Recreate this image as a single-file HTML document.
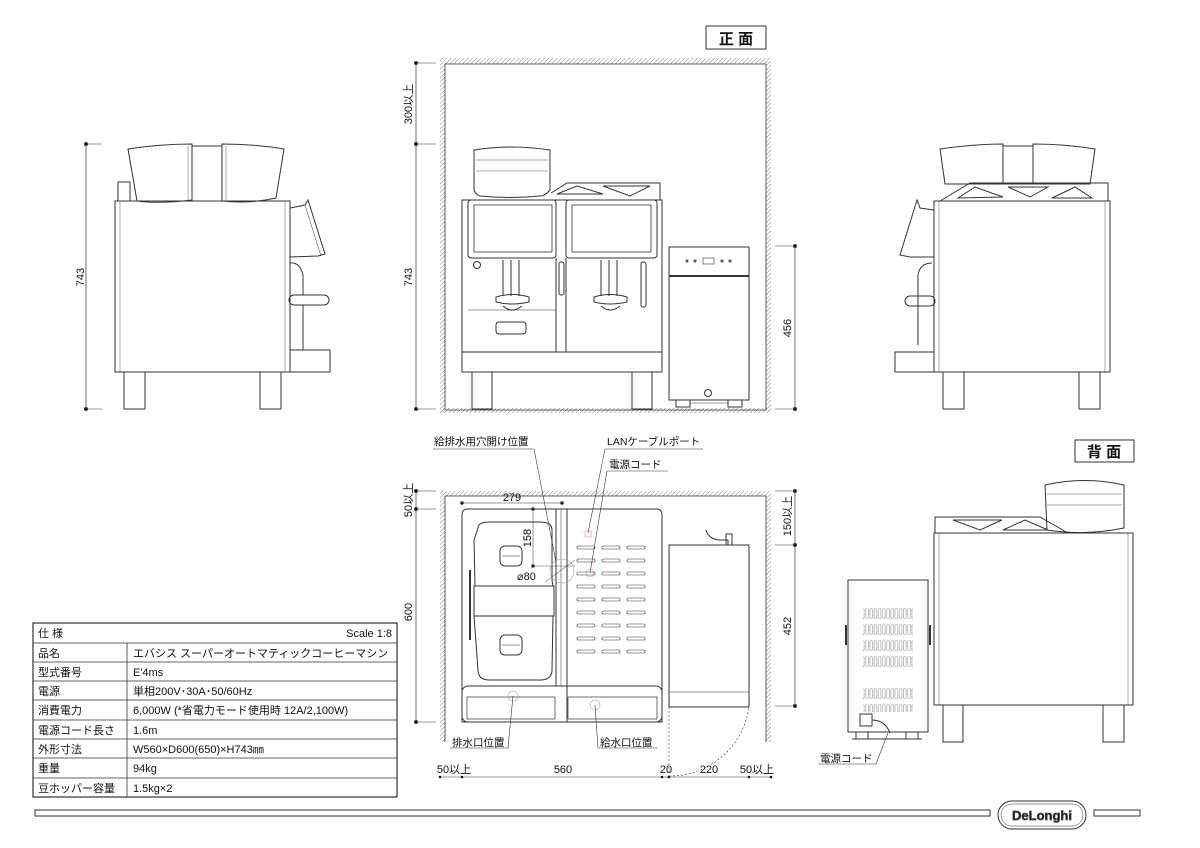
<!DOCTYPE html>
<html><head><meta charset="utf-8"><style>
html,body{margin:0;padding:0;background:#fff}
svg{display:block}
text{font-family:"Liberation Sans","Noto Sans CJK JP",sans-serif;fill:#111}
</style></head><body>
<svg width="1200" height="848" viewBox="0 0 1200 848" xmlns="http://www.w3.org/2000/svg">
<defs>
<pattern id="h" width="3" height="3" patternUnits="userSpaceOnUse" patternTransform="rotate(45)"><line x1="0" y1="0" x2="0" y2="3" stroke="#666" stroke-width="0.8"/></pattern>
<pattern id="vent" width="4.2" height="16" patternUnits="userSpaceOnUse"><rect x="0.5" y="0.5" width="2.6" height="10" rx="1" fill="none" stroke="#999" stroke-width="0.6"/></pattern>
</defs>
<g fill="none" stroke="#333" stroke-width="1">

<!-- LEFT SIDE VIEW -->
<line x1="86" y1="144" x2="86" y2="409" stroke-width="0.7"/>
<line x1="86" y1="144" x2="102" y2="144" stroke-width="0.5"/><line x1="86" y1="409" x2="102" y2="409" stroke-width="0.5"/>
<circle cx="86" cy="144" r="1.5" fill="#111"/><circle cx="86" cy="409" r="1.5" fill="#111"/>
<rect x="118" y="182" width="12" height="19"/>
<path d="M128 149 Q160 144 192 144 L192 200 Q160 204 137 201 Z"/>
<path d="M222 144 Q255 144 284 149 L276 198 Q250 204 222 201 Z"/>
<rect x="192" y="146" width="30" height="55"/>
<line x1="188" y1="146" x2="188" y2="200" stroke-width="0.4"/>
<line x1="226" y1="146" x2="226" y2="200" stroke-width="0.4"/>
<rect x="115" y="201" width="175" height="171"/>
<line x1="120" y1="201" x2="120" y2="372" stroke-width="0.4"/>
<line x1="285" y1="201" x2="285" y2="372" stroke-width="0.4"/>
<rect x="124" y="372" width="21" height="37"/>
<rect x="260" y="372" width="21" height="37"/>
<path d="M290 208 L305 205 L308 200 L325 254 L318 256 L290 257"/>
<path d="M305 205 L321 256" stroke-width="0.5"/>
<path d="M290 263 Q300 262 303 275 L303 295" />
<rect x="289" y="295" width="40" height="10" rx="5"/>
<line x1="303" y1="305" x2="303" y2="350"/>
<rect x="290" y="350" width="40" height="22"/>

<!-- RIGHT SIDE VIEW -->
<path d="M940 149 Q975 144 1003 144 L1003 184 L945 184 Z"/>
<path d="M1033 144 Q1065 144 1095 149 L1090 184 L1033 184 Z"/>
<rect x="1003" y="146" width="30" height="38"/>
<path d="M940 201 L970 183 L1108 183 L1108 201"/>
<path d="M958 198 L975 187 L1003 197 Z"/>
<path d="M1008 187 L1048 187 L1030 197 Z"/>
<path d="M1052 198 L1075 187 L1092 198 Z"/>
<rect x="934" y="201" width="176" height="171"/>
<line x1="939" y1="201" x2="939" y2="372" stroke-width="0.4"/>
<line x1="1105" y1="201" x2="1105" y2="372" stroke-width="0.4"/>
<rect x="943" y="372" width="21" height="37"/>
<rect x="1079" y="372" width="21" height="37"/>
<path d="M934 210 L920 208 L917 200 L900 255 L910 257 L934 257"/>
<path d="M932 263 Q920 263 918 275 L918 345"/>
<rect x="905" y="296" width="30" height="10" rx="5"/>
<rect x="895" y="352" width="39" height="20"/>

<!-- FRONT VIEW WALL -->
<path d="M440 413 L440 58 L771 58 L771 413 L766 413 L766 64 L445 64 L445 413 Z" fill="url(#h)" stroke="none"/>
<rect x="440" y="408" width="331" height="5" fill="url(#h)" stroke="none"/>
<path d="M445 410 L445 64 L766 64 L766 410 L445 410" stroke-width="0.8"/>
<line x1="416" y1="63" x2="416" y2="409" stroke-width="0.7"/>
<line x1="416" y1="63" x2="436" y2="63" stroke-width="0.5"/><line x1="416" y1="144" x2="436" y2="144" stroke-width="0.5"/><line x1="416" y1="409" x2="436" y2="409" stroke-width="0.5"/>
<circle cx="416" cy="63" r="1.5" fill="#111"/><circle cx="416" cy="144" r="1.5" fill="#111"/><circle cx="416" cy="409" r="1.5" fill="#111"/>
<line x1="795" y1="246" x2="795" y2="409" stroke-width="0.7"/>
<line x1="775" y1="246" x2="795" y2="246" stroke-width="0.5"/><line x1="775" y1="409" x2="795" y2="409" stroke-width="0.5"/>
<circle cx="795" cy="246" r="1.5" fill="#111"/><circle cx="795" cy="409" r="1.5" fill="#111"/>
<rect x="706" y="26" width="60" height="23"/>

<!-- front machine -->
<path d="M474 150 Q510 144 550 150 L550 190 Q545 196 540 196 Q510 199 480 196 Q474 194 474 188 Z"/>
<line x1="476" y1="160" x2="548" y2="160" stroke-width="0.4"/>
<line x1="476" y1="171" x2="548" y2="171" stroke-width="0.4"/>
<path d="M551 193 L567 183 L660 183 L660 200"/>
<path d="M557 194 L577 186 L603 194 Z"/>
<path d="M603 186 L650 186 L630 196 Z"/>
<rect x="462" y="200" width="200" height="172"/>
<line x1="462" y1="352" x2="662" y2="352"/>
<rect x="468" y="200" width="88" height="58" rx="3"/>
<rect x="474" y="205" width="78" height="47" stroke-width="0.8"/>
<rect x="566" y="200" width="91" height="58" rx="3"/>
<rect x="572" y="205" width="79" height="47" stroke-width="0.8"/>
<line x1="556" y1="258" x2="556" y2="352"/><line x1="566" y1="258" x2="566" y2="352"/>
<line x1="468" y1="310" x2="556" y2="310" stroke-width="0.6"/>
<circle cx="477" cy="265" r="3.5"/>
<rect x="496" y="322" width="30" height="12" rx="3"/>
<path d="M503 260 L503 296 M511 260 L511 296 M519 260 L519 296"/>
<path d="M496 297 Q512 292 529 297 L529 302 Q512 306 496 302 Z"/>
<path d="M503 306 Q512 314 522 306"/>
<path d="M601 260 L601 296 M609 260 L609 296 M617 260 L617 296"/>
<path d="M594 297 Q610 292 627 297 L627 302 Q610 306 594 302 Z"/>
<path d="M601 306 Q610 314 620 306"/>
<rect x="559" y="262" width="5" height="33" rx="2"/>
<rect x="641" y="262" width="5" height="45" rx="2"/>
<rect x="472" y="372" width="20" height="37"/>
<rect x="632" y="372" width="20" height="37"/>
<rect x="669" y="247" width="80" height="153"/>
<line x1="669" y1="276" x2="749" y2="276" stroke-width="2"/>
<rect x="703" y="258" width="11" height="6" stroke-width="0.6"/>
<circle cx="687" cy="261" r="1" /><circle cx="695" cy="261" r="1"/><circle cx="722" cy="261" r="1"/><circle cx="730" cy="261" r="1"/>
<circle cx="708" cy="393" r="3.5"/>
<rect x="676" y="400" width="14" height="7"/><rect x="728" y="400" width="14" height="7"/>
<line x1="690" y1="403" x2="728" y2="403" stroke-width="0.5"/>

<!-- TOP VIEW WALL -->
<path d="M440 742 L440 491 L771 491 L771 742 L766 742 L766 496 L445 496 L445 742 Z" fill="url(#h)" stroke="none"/>
<path d="M445 742 L445 496 L766 496 L766 742" stroke-width="0.8"/>
<line x1="416" y1="491" x2="416" y2="722" stroke-width="0.7"/>
<line x1="416" y1="491" x2="436" y2="491" stroke-width="0.5"/><line x1="416" y1="509" x2="436" y2="509" stroke-width="0.5"/><line x1="416" y1="722" x2="436" y2="722" stroke-width="0.5"/>
<circle cx="416" cy="491" r="1.5" fill="#111"/><circle cx="416" cy="509" r="1.5" fill="#111"/><circle cx="416" cy="722" r="1.5" fill="#111"/>
<line x1="795" y1="491" x2="795" y2="706" stroke-width="0.7"/>
<line x1="775" y1="491" x2="795" y2="491" stroke-width="0.5"/><line x1="775" y1="545" x2="795" y2="545" stroke-width="0.5"/><line x1="775" y1="706" x2="795" y2="706" stroke-width="0.5"/>
<circle cx="795" cy="491" r="1.5" fill="#111"/><circle cx="795" cy="545" r="1.5" fill="#111"/><circle cx="795" cy="706" r="1.5" fill="#111"/>
<line x1="462" y1="503" x2="562" y2="503" stroke-width="0.5"/>
<circle cx="462" cy="503" r="1.3" fill="#111"/><circle cx="562" cy="503" r="1.3" fill="#111"/><circle cx="533" cy="509" r="1.3" fill="#111"/>
<line x1="533" y1="509" x2="533" y2="566" stroke-width="0.5"/><circle cx="533" cy="566" r="1.3" fill="#111"/>
<line x1="533" y1="566" x2="575" y2="566" stroke-width="0.4"/>

<line x1="440" y1="777" x2="771" y2="777" stroke-width="0.6"/>
<g fill="#111" stroke="none"><circle cx="440" cy="777" r="1.3"/><circle cx="462" cy="777" r="1.3"/><circle cx="662" cy="777" r="1.3"/><circle cx="669" cy="777" r="1.3"/><circle cx="749" cy="777" r="1.3"/><circle cx="771" cy="777" r="1.3"/></g>

<!-- top view machine -->
<path d="M462 722 L462 515 Q462 509 468 509 L656 509 Q662 509 662 515 L662 722 Z"/>
<rect x="462" y="686" width="200" height="36" rx="6"/>
<rect x="467" y="697" width="88" height="22" stroke-width="0.7"/>
<rect x="568" y="697" width="89" height="22" stroke-width="0.7"/>
<line x1="556" y1="509" x2="556" y2="686"/><line x1="567" y1="509" x2="567" y2="722"/>
<line x1="561" y1="509" x2="561" y2="686" stroke-width="0.5"/>
<path d="M478 528 Q478 522 490 522 L540 522 Q552 522 552 530 L552 580 L553 586 L475 586 L474 540 Z"/>
<rect x="474" y="586" width="80" height="30"/>
<path d="M474 616 L553 616 L552 670 Q552 680 540 680 L490 680 Q478 680 478 670 Z"/>
<rect x="500" y="546" width="22" height="20" rx="5"/>
<line x1="502" y1="556" x2="520" y2="556" stroke-width="0.6"/>
<rect x="500" y="635" width="22" height="20" rx="5"/>
<line x1="502" y1="645" x2="520" y2="645" stroke-width="0.6"/>
<line x1="470" y1="570" x2="470" y2="640" stroke-width="2"/>
<circle cx="562" cy="571" r="12" stroke="#8ab" stroke-width="0.6"/>
<line x1="545" y1="582" x2="575" y2="560" stroke-width="0.5"/>
<rect x="585" y="531" width="6" height="6" stroke="#e88" stroke-width="0.6"/>
<circle cx="590" cy="573" r="4" stroke="#e88" stroke-width="0.6"/>
<circle cx="513" cy="696" r="5" stroke="#8ab" stroke-width="0.6"/>
<circle cx="595" cy="705" r="5" stroke="#8ab" stroke-width="0.6"/>
<g stroke-width="0.6">
<rect x="577" y="546" width="18" height="3" rx="1"/><rect x="602" y="546" width="18" height="3" rx="1"/><rect x="627" y="546" width="18" height="3" rx="1"/>
<rect x="577" y="559" width="18" height="3" rx="1"/><rect x="602" y="559" width="18" height="3" rx="1"/><rect x="627" y="559" width="18" height="3" rx="1"/>
<rect x="577" y="572" width="18" height="3" rx="1"/><rect x="602" y="572" width="18" height="3" rx="1"/><rect x="627" y="572" width="18" height="3" rx="1"/>
<rect x="577" y="585" width="18" height="3" rx="1"/><rect x="602" y="585" width="18" height="3" rx="1"/><rect x="627" y="585" width="18" height="3" rx="1"/>
<rect x="577" y="598" width="18" height="3" rx="1"/><rect x="602" y="598" width="18" height="3" rx="1"/><rect x="627" y="598" width="18" height="3" rx="1"/>
<rect x="577" y="611" width="18" height="3" rx="1"/><rect x="602" y="611" width="18" height="3" rx="1"/><rect x="627" y="611" width="18" height="3" rx="1"/>
<rect x="577" y="624" width="18" height="3" rx="1"/><rect x="602" y="624" width="18" height="3" rx="1"/><rect x="627" y="624" width="18" height="3" rx="1"/>
<rect x="577" y="637" width="18" height="3" rx="1"/><rect x="602" y="637" width="18" height="3" rx="1"/><rect x="627" y="637" width="18" height="3" rx="1"/>
<rect x="577" y="650" width="18" height="3" rx="1"/><rect x="602" y="650" width="18" height="3" rx="1"/><rect x="627" y="650" width="18" height="3" rx="1"/>
</g>
<rect x="669" y="545" width="80" height="162"/>
<line x1="669" y1="692" x2="749" y2="692" stroke-width="0.6"/>
<path d="M706 530 Q708 538 718 540 L728 540 L728 545 L718 545" />
<rect x="726" y="534" width="6" height="11"/>
<path d="M669 776 A80 80 0 0 0 749 707" stroke-dasharray="2 2" stroke-width="0.6"/>
<line x1="669" y1="707" x2="669" y2="776" stroke-dasharray="2 2" stroke-width="0.6"/>

<!-- leaders -->
<g stroke-width="0.6">
<line x1="433" y1="449" x2="534" y2="449"/><line x1="534" y1="449" x2="556" y2="562"/>
<line x1="605" y1="449" x2="703" y2="449"/><line x1="605" y1="449" x2="588" y2="533"/>
<line x1="607" y1="471" x2="668" y2="471"/><line x1="607" y1="471" x2="590" y2="573"/>
<line x1="450" y1="748" x2="509" y2="748"/><line x1="513" y1="696" x2="508" y2="748"/>
<line x1="598" y1="748" x2="658" y2="748"/><line x1="595" y1="705" x2="598" y2="748"/>
<line x1="818" y1="764" x2="876" y2="764"/><line x1="876" y1="764" x2="888" y2="733"/>
</g>

<!-- BACK VIEW -->
<rect x="1075" y="440" width="59" height="22"/>
<path d="M1045 485 Q1085 476 1124 485 L1124 528 Q1085 536 1047 530 Z"/>
<line x1="1047" y1="494" x2="1122" y2="494" stroke-width="0.4"/>
<line x1="1047" y1="505" x2="1122" y2="505" stroke-width="0.4"/>
<path d="M935 533 L935 517 L1040 517 L1068 533"/>
<path d="M953 520 L1002 520 L980 530 Z"/>
<path d="M1003 530 L1025 520 L1048 530 Z"/>
<rect x="934" y="533" width="199" height="172"/>
<line x1="939" y1="533" x2="939" y2="705" stroke-width="0.4"/>
<line x1="1128" y1="533" x2="1128" y2="705" stroke-width="0.4"/>
<rect x="943" y="705" width="20" height="37"/><rect x="1103" y="705" width="21" height="37"/>
<rect x="848" y="580" width="80" height="152"/>
<rect x="863" y="608" width="50" height="60" fill="url(#vent)" stroke="none"/>
<rect x="863" y="684" width="50" height="28" fill="url(#vent)" stroke="none"/>
<rect x="860" y="714" width="12" height="12"/>
<path d="M872 720 Q885 720 890 733"/>
<rect x="856" y="732" width="12" height="7"/><rect x="906" y="732" width="12" height="7"/>
<line x1="852" y1="739" x2="922" y2="739"/>
<line x1="846" y1="625" x2="846" y2="645" stroke-width="2"/><line x1="930" y1="625" x2="930" y2="645" stroke-width="2"/>

<!-- TABLE -->
<rect x="33" y="623" width="364" height="174" stroke-width="1.2"/>
<g stroke-width="0.8">
<line x1="33" y1="643" x2="397" y2="643"/><line x1="33" y1="662" x2="397" y2="662"/>
<line x1="33" y1="681" x2="397" y2="681"/><line x1="33" y1="700" x2="397" y2="700"/>
<line x1="33" y1="720" x2="397" y2="720"/><line x1="33" y1="739" x2="397" y2="739"/>
<line x1="33" y1="758" x2="397" y2="758"/><line x1="33" y1="778" x2="397" y2="778"/>
<line x1="127" y1="643" x2="127" y2="797"/>
</g>

<!-- bottom bar + logo -->
<rect x="35" y="810" width="955" height="6" stroke-width="1"/>
<rect x="1094" y="810" width="46" height="6"/>
<rect x="998" y="801" width="88" height="28" rx="14"/>
<rect x="1001" y="804" width="82" height="22" rx="11" stroke-width="0.5"/>
</g>

<!-- TEXT -->
<g font-size="11">
<text x="408" y="104" transform="rotate(-90 408 104)" text-anchor="middle" dy="4">300以上</text>
<text x="408" y="277" transform="rotate(-90 408 277)" text-anchor="middle" dy="4">743</text>
<text x="80" y="277" transform="rotate(-90 80 277)" text-anchor="middle" dy="4">743</text>
<text x="787" y="328" transform="rotate(-90 787 328)" text-anchor="middle" dy="4">456</text>
<text x="408" y="500" transform="rotate(-90 408 500)" text-anchor="middle" dy="4">50以上</text>
<text x="408" y="612" transform="rotate(-90 408 612)" text-anchor="middle" dy="4">600</text>
<text x="787" y="516" transform="rotate(-90 787 516)" text-anchor="middle" dy="4">150以上</text>
<text x="787" y="626" transform="rotate(-90 787 626)" text-anchor="middle" dy="4">452</text>
<text x="527" y="538" transform="rotate(-90 527 538)" text-anchor="middle" dy="4">158</text>
<text x="512" y="501" text-anchor="middle">279</text>
<text x="517" y="580">⌀80</text>
<text x="454" y="773" text-anchor="middle">50以上</text>
<text x="563" y="773" text-anchor="middle">560</text>
<text x="666" y="773" text-anchor="middle">20</text>
<text x="709" y="773" text-anchor="middle">220</text>
<text x="757" y="773" text-anchor="middle">50以上</text>
<text x="434" y="445" font-size="10.5">給排水用穴開け位置</text>
<text x="607" y="445" font-size="10.5">LANケーブルポート</text>
<text x="609" y="468" font-size="10.5">電源コード</text>
<text x="452" y="746" font-size="10.5">排水口位置</text>
<text x="600" y="746" font-size="10.5">給水口位置</text>
<text x="820" y="762" font-size="10.5">電源コード</text>
</g>
<text x="736" y="44" font-size="15" font-weight="bold" text-anchor="middle">正 面</text>
<text x="1104" y="457" font-size="15" font-weight="bold" text-anchor="middle">背 面</text>
<text x="1042" y="820" font-size="13" font-weight="bold" text-anchor="middle" fill="#fff" stroke="#555" stroke-width="0.7" font-family="Liberation Serif, serif">DeLonghi</text>
<g font-size="11">
<text x="38" y="637">仕 様</text><text x="392" y="637" text-anchor="end">Scale 1:8</text>
<text x="38" y="657">品名</text><text x="133" y="657">エバシス スーパーオートマティックコーヒーマシン</text>
<text x="38" y="676">型式番号</text><text x="133" y="676">E'4ms</text>
<text x="38" y="695">電源</text><text x="133" y="695">単相200V･30A･50/60Hz</text>
<text x="38" y="714">消費電力</text><text x="133" y="714">6,000W (*省電力モード使用時 12A/2,100W)</text>
<text x="38" y="734">電源コード長さ</text><text x="133" y="734">1.6m</text>
<text x="38" y="753">外形寸法</text><text x="133" y="753">W560×D600(650)×H743㎜</text>
<text x="38" y="772">重量</text><text x="133" y="772">94kg</text>
<text x="38" y="792">豆ホッパー容量</text><text x="133" y="792">1.5kg×2</text>
</g>
</svg>
</body></html>
